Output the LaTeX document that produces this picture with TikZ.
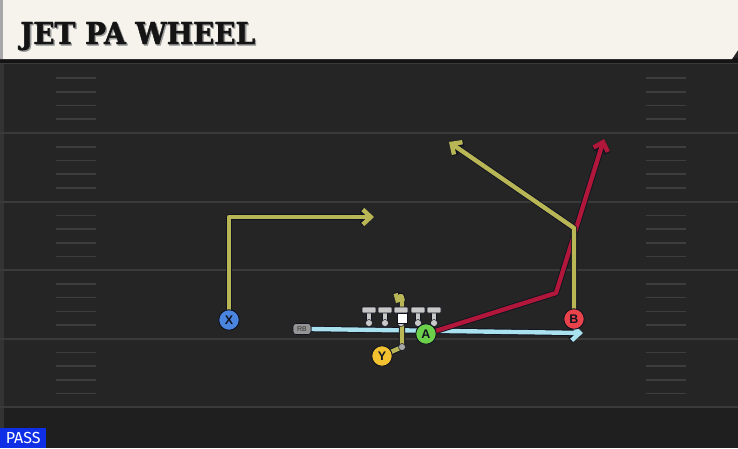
\documentclass[tikz,border=0pt]{standalone}
\usepackage{fontspec}
\usepackage{graphicx}
\setmainfont{DejaVu Serif}
\newfontfamily\titlef[BoldFeatures={FakeBold=1.6}]{DejaVu Serif}
\newfontfamily\labf{Liberation Sans}
\newfontfamily\passf{Fira Sans}
\usetikzlibrary{arrows.meta}
\definecolor{fieldc}{HTML}{252525}
\definecolor{bottomc}{HTML}{1F1F1F}
\definecolor{yardc}{HTML}{3A3A3A}
\definecolor{hashc}{HTML}{3D3D3D}
\definecolor{hdrc}{HTML}{F5F3EC}
\definecolor{yelr}{HTML}{B9B656}
\definecolor{redr}{HTML}{B0173A}
\definecolor{bluer}{HTML}{A9E1EE}
\definecolor{xblue}{HTML}{4A86E0}
\definecolor{yyel}{HTML}{F2C230}
\definecolor{agreen}{HTML}{6CD04A}
\definecolor{bred}{HTML}{E8424A}
\definecolor{passblue}{HTML}{0F2FE6}
\definecolor{olgray}{HTML}{C8C8C8}
\definecolor{outc}{HTML}{111320}
\pgfdeclarelayer{bg}
\pgfdeclarelayer{rts}
\pgfsetlayers{bg,rts,main}
\tikzset{
  outl/.style={draw=outc, line width=6.2pt, line join=round},
  rt/.style={line width=4.4pt, line join=round},
  tipa/.style={-{Straight Barb[length=8pt,width=15pt]}},
  tipb/.style={-{Straight Barb[length=5pt,width=10pt]}},
  player/.style={circle, draw=outc, line width=0.9pt, minimum size=20.5pt, inner sep=0pt,
    font=\labf\bfseries\fontsize{12.5}{12.5}\selectfont, text=outc},
  oldot/.style={circle, fill=olgray, draw=outc, line width=0.5pt, minimum size=7pt, inner sep=0pt},
  yardl/.style={draw=yardc, line width=2pt},
  hashl/.style={draw=hashc, line width=1.6pt}
}
\newcommand\routedraw[3][tipa]{\draw[outl,#1] #3; \draw[rt,#1,draw=#2] #3;}
\begin{document}
\begin{tikzpicture}[x=1pt,y=-1pt]
\useasboundingbox (0,0) rectangle (738,448);
\begin{pgfonlayer}{bg}
  \fill[fieldc] (0,0) rectangle (738,448);
  \fill[bottomc] (0,408) rectangle (738,448);
  \fill[black!80] (0,62) rectangle (3.5,448);
  \foreach \yy in {133,201.6,270.2,338.8,407.4} {\draw[yardl] (0,\yy) -- (738,\yy);}
  \foreach \L in {64.4,133,201.6,270.2,338.8} {
    \foreach \k in {1,2,3,4} {
      \draw[hashl] (56,\L+13.7*\k) -- (96,\L+13.7*\k);
      \draw[hashl] (646,\L+13.7*\k) -- (686,\L+13.7*\k);
    }
  }
  % header
  \fill[black!92] (0,58) rectangle (738,63);
  \draw[yardc, line width=1.5pt] (0,63.5) -- (738,63.5);
  \fill[hdrc] (0,0) -- (738,0) -- (738,50) -- (732,59) -- (0,59) -- cycle;
  \fill[black!35] (0,0) rectangle (3,59);
\end{pgfonlayer}
% title
\node[anchor=base west, inner sep=0pt, text=black!40] (titlesh) at (21.3,45.3)
  {\resizebox{235pt}{22pt}{\titlef\bfseries JET PA WHEEL}};
\node[anchor=base west, inner sep=0pt, text=black!92] (title) at (20,44)
  {\resizebox{235pt}{22pt}{\titlef\bfseries JET PA WHEEL}};
% offensive line
\foreach \x [count=\i] in {369,385,401,418,434} {
  \draw[outc, line width=5.5pt] (\x,311) -- (\x,322);
  \draw[olgray, line width=4pt] (\x,311) -- (\x,322);
  \filldraw[fill=olgray, draw=outc, line width=0.6pt, rounded corners=0.8pt] (\x-7,307) rectangle (\x+7,313);
  \node[oldot] (ol\i) at (\x,323) {};
}
\node[draw=outc, fill=white, line width=0.6pt, minimum size=10pt, inner sep=0pt] (C) at (402,318) {};
% players
\node[player, fill=xblue] (X) at (229,320) {X};
\node[player, fill=yyel] (Y) at (382,356) {Y};
\node[player, fill=agreen] (A) at (426,334) {A};
\node[player, fill=bred] (B) at (574,319) {B};
\node[draw=outc, fill=black!42, rounded corners=3pt, line width=0.6pt, minimum width=18pt,
  minimum height=11pt, inner sep=0pt, text=black!80, font=\labf\fontsize{7}{7}\selectfont] (RB) at (302,329) {RB};
\node[oldot, fill=black!35, minimum size=7pt] (ydot) at (402,347) {};
% route coordinates
\coordinate (xc) at (229,217);
\coordinate (xe) at (374,217);
\coordinate (be) at (583,333);
\coordinate (rc) at (556,293);
\coordinate (re) at (604,139);
\coordinate (bc) at (574,228);
\coordinate (bte) at (449,142);
\coordinate (yt) at (402,299);
\coordinate (ye) at (396,303);
\begin{pgfonlayer}{rts}
  \routedraw{yelr}{(X.center) -- (xc) -- (xe)}
  \routedraw{bluer}{(RB.east) -- (be)}
  \routedraw{redr}{(A.center) -- (rc) -- (re)}
  \routedraw{yelr}{(B.center) -- (bc) -- (bte)}
  \routedraw[tipb]{yelr}{(Y.center) -- (ydot.center) -- (yt) .. controls (402,294) and (400,296) .. (ye)}
\end{pgfonlayer}
% PASS label
\node[fill=passblue, text=white, anchor=south west, minimum width=46pt, minimum height=20pt,
  inner sep=0pt, font=\passf\fontsize{16}{16}\selectfont] (pass) at (0,448) {PASS};
\end{tikzpicture}
\end{document}
